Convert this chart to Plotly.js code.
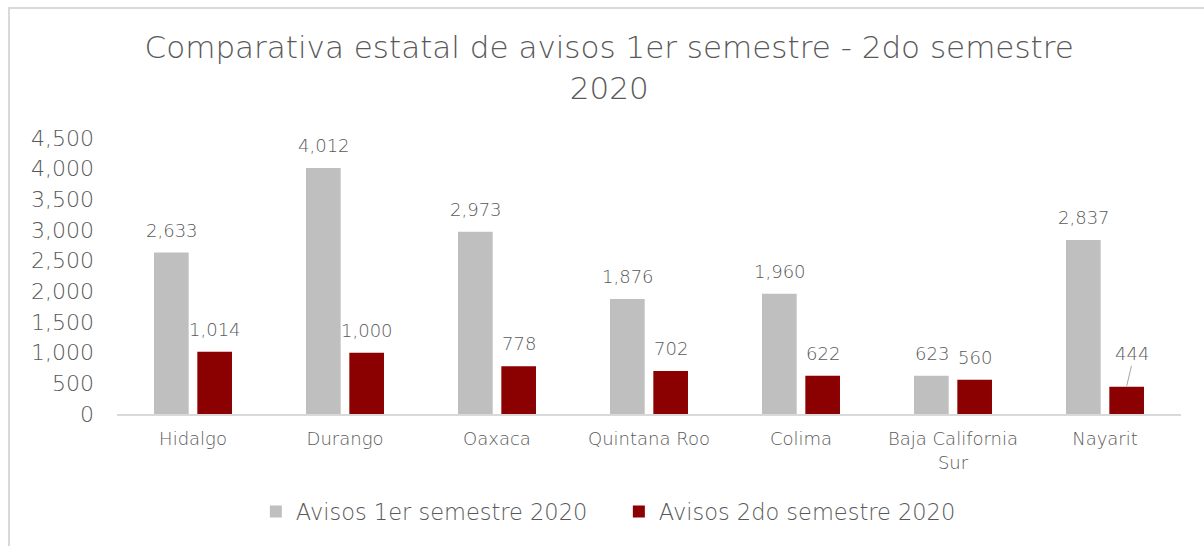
<!DOCTYPE html>
<html>
<head>
<meta charset="utf-8">
<script src="https://cdn.plot.ly/plotly-3.0.1.min.js"></script>
<style>
html,body{margin:0;padding:0;background:#fff;overflow:hidden;}
#frame{position:absolute;left:8px;top:7px;width:1300px;height:700px;border:2px solid #d9d9d9;box-sizing:border-box;pointer-events:none;z-index:5;}
#chart{width:1204px;height:546px;}
</style>
</head>
<body>
<div id="frame"></div>
<div id="chart"></div>
<script>
const categories = ["Hidalgo", "Durango", "Oaxaca", "Quintana Roo", "Colima", "Baja California<br>Sur", "Nayarit"];
const sem1 = [2633, 4012, 2973, 1876, 1960, 623, 2837];
const sem2 = [1014, 1000, 778, 702, 622, 560, 444];
const seriesNames = ["Avisos 1er semestre 2020", "Avisos 2do semestre 2020"];
const yTicks = [0, 500, 1000, 1500, 2000, 2500, 3000, 3500, 4000, 4500];

const FONT = "DejaVu Sans, sans-serif";
const W = 200;
const TXT = "#595959";
const fmt = v => v.toLocaleString("en-US");

const traces = [
  {type: "bar", name: seriesNames[0], x: categories, y: sem1, marker: {color: "#bfbfbf"}, hoverinfo: "none"},
  {type: "bar", name: seriesNames[1], x: categories, y: sem2, marker: {color: "#8b0000"}, hoverinfo: "none"}
];

const annotations = [];
[sem1, sem2].forEach((arr, si) => {
  arr.forEach((v, i) => {
    const a = {
      x: categories[i], y: v, xref: "x", yref: "y",
      text: fmt(v), showarrow: false,
      xshift: si === 0 ? -21.5 : 21.5, yshift: 10,
      yanchor: "bottom",
      font: {family: FONT, size: 18, color: TXT, weight: W}
    };
    if (si === 1 && i === categories.length - 1) {
      a.showarrow = true; a.arrowhead = 0; a.arrowwidth = 1; a.arrowcolor = "#a6a6a6";
      a.ax = 5; a.ay = -21; a.yshift = 0; a.standoff = 1;
    }
    annotations.push(a);
  });
});

const layout = {
  width: 1204, height: 546,
  margin: {l: 117, r: 23, t: 138, b: 132},
  paper_bgcolor: "#fff", plot_bgcolor: "#fff",
  title: {
    text: "Comparativa estatal de avisos 1er semestre - 2do semestre<br>2020",
    font: {family: FONT, size: 31, color: TXT, weight: W},
    x: 0.506, xanchor: "center", yref: "container", y: 0.893, yanchor: "middle"
  },
  barmode: "group", bargap: 0.43, bargroupgap: 0.2,
  xaxis: {
    showline: true, linecolor: "#d9d9d9", linewidth: 1.5,
    showgrid: false, ticks: "", ticklabelstandoff: 8,
    tickfont: {family: FONT, size: 18, color: TXT, weight: W}
  },
  yaxis: {
    range: [0, 4500], tickvals: yTicks, ticktext: yTicks.map(fmt),
    showgrid: false, zeroline: false, showline: false, ticks: "",
    ticklabelstandoff: 22,
    tickfont: {family: FONT, size: 22, color: TXT, weight: W}
  },
  showlegend: true,
  legend: {
    orientation: "h", x: 0.1305, xanchor: "left", y: -0.355, yanchor: "middle",
    font: {family: FONT, size: 22.5, color: TXT, weight: W},
    itemwidth: 30, tracegroupgap: 0,
    entrywidth: 318, entrywidthmode: "pixels"
  },
  annotations: annotations
};

Plotly.newPlot("chart", traces, layout, {displayModeBar: false, staticPlot: true});
</script>
</body>
</html>
